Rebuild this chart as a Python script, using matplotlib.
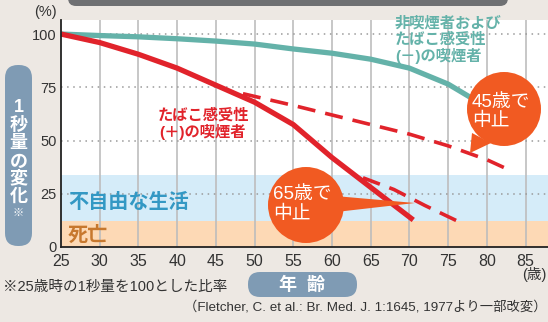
import matplotlib
matplotlib.use("Agg")
import matplotlib.pyplot as plt
from matplotlib.patches import Circle, Polygon, FancyBboxPatch

plt.rcParams['font.family'] = ['Liberation Sans', 'Noto Sans CJK JP']

# FEV1 (% of value at age 25)
ages_ns = [25, 30, 35, 40, 45, 50, 55, 60, 65, 70, 75, 78]
fev_ns = [100, 99.3, 98.7, 97.8, 96.7, 95.3, 93, 91, 88.2, 84, 76.5, 70]

ages_sm = [25, 30, 35, 40, 45, 50, 55, 60, 65, 70.5]
fev_sm = [100, 96, 90.5, 84, 76, 68, 57.5, 42, 28, 12.7]

ages_q45 = [48.5, 55, 60, 65, 70, 75, 80, 83]
fev_q45 = [72, 66.5, 62, 57.5, 53, 47.5, 41, 36]

ages_q65 = [64, 68, 72, 76.3]
fev_q65 = [32.5, 27, 19.5, 12]

xticks = [25, 30, 35, 40, 45, 50, 55, 60, 65, 70, 75, 80, 85]
yticks = [0, 25, 50, 75, 100]
death_level = 12.3
disabled_level = 34

teal = '#64b2a9'
red = '#e1232b'
orange = '#f15a22'
boxblue = '#7f9bb4'

W, H = 548, 322
fig = plt.figure(figsize=(W / 100, H / 100), dpi=100)
fig.patch.set_facecolor('#ede8e3')

ax = fig.add_axes([61 / W, (H - 247) / H, (W - 61) / W, (247 - 20) / H])
ax.set_facecolor('white')
ax.set_xlim(25, 87.9)
ax.set_ylim(0, 106.6)

# background zones
ax.axhspan(0, death_level, color='#fdd9b5', lw=0, zorder=0)
ax.axhspan(death_level, disabled_level, color='#d5ecf9', lw=0, zorder=0)

# grid
for x in xticks[1:]:
    ax.axvline(x, color='#bdbdbd', lw=1.2, zorder=1)
for y in yticks[1:]:
    ax.axhline(y, color='#9a9a9a', lw=1.1, ls=(0, (1, 3)), zorder=1)

ax.plot(ages_ns, fev_ns, color=teal, lw=3.8, solid_capstyle='butt', solid_joinstyle='round', zorder=3)
ax.plot(ages_q45, fev_q45, color=red, lw=2.6, ls=(0, (5, 2.8)), zorder=3)
ax.plot(ages_q65, fev_q65, color=red, lw=2.6, ls=(0, (5, 2.8)), zorder=3)
ax.plot(ages_sm, fev_sm, color=red, lw=3.8, solid_capstyle='butt', solid_joinstyle='round', zorder=4)

ax.set_xticks(xticks)
ax.set_yticks(yticks)
ax.tick_params(length=0, colors='#333333')
ax.tick_params(axis='x', labelsize=11.5, pad=5)
ax.tick_params(axis='y', labelsize=10.5, pad=3)
for s in ['top', 'right']:
    ax.spines[s].set_visible(False)
for s in ['left', 'bottom']:
    ax.spines[s].set_color('#222222')
    ax.spines[s].set_linewidth(1.3)
    ax.spines[s].set_zorder(5)

# overlay in pixel coordinates for boxes, balloons and labels
ov = fig.add_axes([0, 0, 1, 1])
ov.set_xlim(0, W)
ov.set_ylim(H, 0)
ov.axis('off')
ov.patch.set_alpha(0)

ov.add_patch(FancyBboxPatch((68, -20), 440, 26, boxstyle='round,pad=0,rounding_size=8',
                            color='#6f7073', lw=0))
ov.add_patch(FancyBboxPatch((5, 65), 27, 181, boxstyle='round,pad=0,rounding_size=13',
                            color=boxblue, lw=0))
ov.add_patch(FancyBboxPatch((248, 272), 109, 25, boxstyle='round,pad=0,rounding_size=12',
                            color=boxblue, lw=0))

# balloons
ov.add_patch(Polygon([(472, 133), (491, 143), (470, 153)], color=orange, lw=0))
ov.add_patch(Circle((504, 109), 37, color=orange, lw=0))
ov.add_patch(Polygon([(335, 196), (336, 212), (415, 203)], color=orange, lw=0))
ov.add_patch(Circle((306, 205), 38, color=orange, lw=0))
ov.text(472, 102, '45歳で', color='white', fontsize=13.5, va='center', ha='left')
ov.text(472, 121, '中止', color='white', fontsize=13.5, va='center', ha='left')
ov.text(273, 194, '65歳で', color='white', fontsize=13.5, va='center', ha='left')
ov.text(273, 214, '中止', color='white', fontsize=13.5, va='center', ha='left')

# line labels
ov.text(203, 124, 'たばこ感受性\n(＋)の喫煙者', color=red, fontsize=11, ha='center', va='center',
        linespacing=1.15, weight='bold')
ov.text(395, 40, '非喫煙者および\nたばこ感受性\n(－)の喫煙者', color=teal, fontsize=11, ha='left', va='center',
        linespacing=1.15, weight='bold')
ov.text(68, 202, '不自由な生活', color='#3398c4', fontsize=14.5, va='center', ha='left', weight='bold')
ov.text(68, 235, '死亡', color='#c7782e', fontsize=14.5, va='center', ha='left', weight='bold')

# axis captions
ov.text(45, 12, '(%)', color='#333333', fontsize=10.5, ha='center', va='center')
ov.text(534, 275, '(歳)', color='#333333', fontsize=10.5, ha='center', va='center')
for ch, y in zip('1秒量の変化', [107, 125, 143, 162, 179, 197]):
    ov.text(18.5, y, ch, color='white', fontsize=13, ha='center', va='center', weight='bold')
ov.text(18.5, 213, '※', color='white', fontsize=8, ha='center', va='center')
ov.text(302, 285, '年  齢', color='white', fontsize=13, ha='center', va='center', weight='bold')

ov.text(3, 287, '※25歳時の1秒量を100とした比率', color='#333333', fontsize=10.5, ha='left', va='center')
ov.text(547, 307, '（Fletcher, C. et al.: Br. Med. J. 1:1645, 1977より一部改変）', color='#333333',
        fontsize=9.6, ha='right', va='center')

fig.savefig('out.png', dpi=100, facecolor=fig.get_facecolor())
